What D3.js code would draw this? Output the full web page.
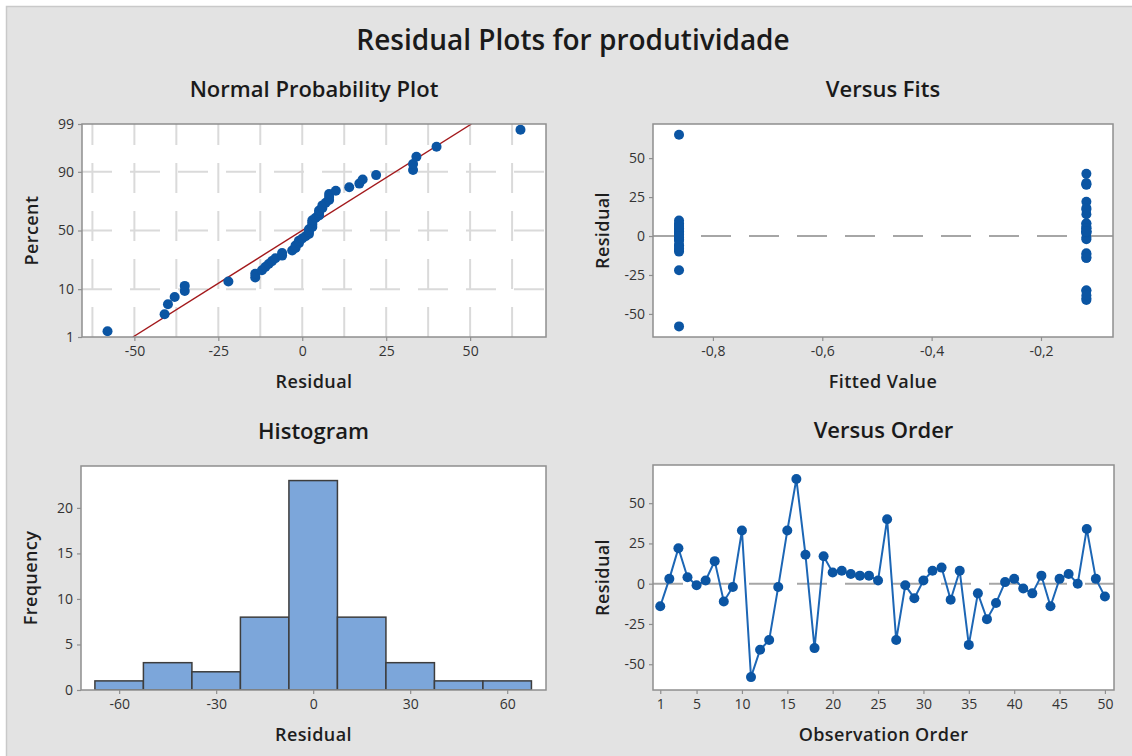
<!DOCTYPE html>
<html>
<head>
<meta charset="utf-8">
<script src="https://cdn.jsdelivr.net/npm/d3@7"></script>
<style>
  body { margin: 0; background: #fff; }
  svg { display: block; font-family: "Open Sans", "Noto Sans", sans-serif; }
</style>
</head>
<body>
<div id="chart"></div>
<script>
// residuals by observation order (1..50)
const residuals = [
  -14, 3, 22, 4, -1, 2, 14, -11, -2, 33,
  -58, -41, -35, -2, 33, 65, 18, -40, 17, 7,
  8, 6, 5, 5, 2, 40, -35, -1, -9, 2,
  8, 10, -10, 8, -38, -6, -22, -12, 1, 3,
  -3, -6, 5, -14, 3, 6, 0, 34, 3, -8
];
// fitted value of each observation (two groups)
const fittedValues = [
  -0.117, -0.862, -0.117, -0.862, -0.862, -0.862, -0.117, -0.117, -0.862, -0.117,
  -0.862, -0.117, -0.117, -0.117, -0.117, -0.862, -0.117, -0.117, -0.117, -0.862,
  -0.862, -0.117, -0.862, -0.117, -0.117, -0.117, -0.117, -0.117, -0.862, -0.117,
  -0.117, -0.862, -0.862, -0.117, -0.117, -0.862, -0.862, -0.117, -0.862, -0.117,
  -0.862, -0.862, -0.117, -0.117, -0.117, -0.862, -0.862, -0.117, -0.117, -0.862
];
// histogram
const histCenters = [-60, -45, -30, -15, 0, 15, 30, 45, 60];
const histCounts = [1, 3, 2, 8, 23, 8, 3, 1, 1];
const binWidth = 15;

// tick labels
const probTicks = [1, 10, 50, 90, 99];
const probGridLines = [10, 50, 90];
const probXTicks = [-50, -25, 0, 25, 50];
const fitsXTicks = [-0.8, -0.6, -0.4, -0.2];
const residTicks = [-50, -25, 0, 25, 50];
const histXTicks = [-60, -30, 0, 30, 60];
const histYTicks = [0, 5, 10, 15, 20];
const orderTicks = [1, 5, 10, 15, 20, 25, 30, 35, 40, 45, 50];

const W = 1132, H = 756;
const BLUE = '#0b55a3';
const DASH = '30,18';

// inverse standard normal cdf (Acklam)
function probit(p) {
  const a = [-39.69683028665376, 220.9460984245205, -275.9285104469687, 138.3577518672690, -30.66479806614716, 2.506628277459239];
  const b = [-54.47609879822406, 161.5858368580409, -155.6989798598866, 66.80131188771972, -13.28068155288572];
  const c = [-0.007784894002430293, -0.3223964580411365, -2.400758277161838, -2.549732539343734, 4.374664141464968, 2.938163982698783];
  const d = [0.007784695709041462, 0.3224671290700398, 2.445134137142996, 3.754408661907416];
  const pl = 0.02425;
  let q, r;
  if (p < pl) {
    q = Math.sqrt(-2 * Math.log(p));
    return (((((c[0]*q+c[1])*q+c[2])*q+c[3])*q+c[4])*q+c[5]) / ((((d[0]*q+d[1])*q+d[2])*q+d[3])*q+1);
  }
  if (p > 1 - pl) {
    q = Math.sqrt(-2 * Math.log(1 - p));
    return -(((((c[0]*q+c[1])*q+c[2])*q+c[3])*q+c[4])*q+c[5]) / ((((d[0]*q+d[1])*q+d[2])*q+d[3])*q+1);
  }
  q = p - 0.5; r = q * q;
  return (((((a[0]*r+a[1])*r+a[2])*r+a[3])*r+a[4])*r+a[5])*q / (((((b[0]*r+b[1])*r+b[2])*r+b[3])*r+b[4])*r+1);
}

const hyphen = d => String(d);
const comma1 = d => d.toFixed(1).replace('.', ',');

const svg = d3.select('#chart').append('svg').attr('width', W).attr('height', H);

// background
svg.append('rect').attr('width', W).attr('height', H).attr('fill', '#fff');
svg.append('rect').attr('x', 6.5).attr('y', 6.5).attr('width', W).attr('height', H)
  .attr('fill', '#e3e3e3').attr('stroke', '#c9c9c9').attr('stroke-width', 1.5);

svg.append('text').attr('x', 573).attr('y', 50).attr('text-anchor', 'middle')
  .style('font-size', '28px').style('font-weight', 600).attr('fill', '#1a1a1a')
  .text('Residual Plots for produtividade');

let clipId = 0;
function panel(box, title, xLabel, yLabel) {
  const g = svg.append('g');
  const id = 'clip' + (clipId++);
  g.append('clipPath').attr('id', id).append('rect')
    .attr('x', box.x0).attr('y', box.y0).attr('width', box.x1 - box.x0).attr('height', box.y1 - box.y0);
  g.append('rect').attr('x', box.x0).attr('y', box.y0)
    .attr('width', box.x1 - box.x0).attr('height', box.y1 - box.y0).attr('fill', '#fff');
  const cx = (box.x0 + box.x1) / 2, cy = (box.y0 + box.y1) / 2;
  g.append('text').attr('x', cx).attr('y', box.y0 - 27).attr('text-anchor', 'middle')
    .style('font-size', '22px').style('font-weight', 600).attr('fill', '#1a1a1a').text(title);
  g.append('text').attr('x', cx).attr('y', box.y1 + 51).attr('text-anchor', 'middle')
    .style('font-size', '18px').style('font-weight', 600).attr('fill', '#1e1e1e')
    .style('letter-spacing', '0.4px').text(xLabel);
  g.append('text').attr('transform', `translate(${box.x0 - 44},${cy}) rotate(-90)`)
    .attr('text-anchor', 'middle')
    .style('font-size', '18px').style('font-weight', 600).attr('fill', '#1e1e1e')
    .style('letter-spacing', '0.4px').text(yLabel);
  const plot = g.append('g').attr('clip-path', `url(#${id})`);
  return { g, plot };
}

function frame(g, box) {
  g.append('rect').attr('x', box.x0).attr('y', box.y0)
    .attr('width', box.x1 - box.x0).attr('height', box.y1 - box.y0)
    .attr('fill', 'none').attr('stroke', '#8f8f8f').attr('stroke-width', 1.5);
}

function styleAxis(sel) {
  sel.select('.domain').remove();
  sel.selectAll('.tick line').attr('stroke', '#8f8f8f').attr('stroke-width', 1.2);
  sel.selectAll('.tick text').attr('fill', '#333').style('font-size', '14px')
    .style('font-family', '"Open Sans", "Noto Sans", sans-serif');
}

function addAxes(g, box, x, y, xt, yt, xf, yf) {
  g.append('g').attr('transform', `translate(0,${box.y1})`)
    .call(d3.axisBottom(x).tickValues(xt).tickFormat(xf).tickSize(4).tickPadding(5))
    .call(styleAxis);
  g.append('g').attr('transform', `translate(${box.x0},0)`)
    .call(d3.axisLeft(y).tickValues(yt).tickFormat(yf).tickSize(4).tickPadding(4))
    .call(styleAxis);
}

// ---------- Normal Probability Plot ----------
{
  const box = { x0: 82, x1: 546, y0: 124, y1: 337 };
  const { g, plot } = panel(box, 'Normal Probability Plot', 'Residual', 'Percent');
  const x = d3.scaleLinear().domain([-65.6, 72.6]).range([box.x0, box.x1]);
  const z = d3.scaleLinear().domain([probit(0.01), probit(0.99)]).range([box.y1, box.y0]);

  const gridX = d3.range(-62.5, 63, 12.5);
  plot.selectAll('.vgrid').data(gridX).join('line')
    .attr('x1', d => x(d)).attr('x2', d => x(d)).attr('y1', box.y1).attr('y2', box.y0)
    .attr('stroke', '#dadada').attr('stroke-width', 2).attr('stroke-dasharray', DASH);
  plot.selectAll('.hgrid').data(probGridLines).join('line')
    .attr('x1', box.x0).attr('x2', box.x1)
    .attr('y1', d => z(probit(d / 100))).attr('y2', d => z(probit(d / 100)))
    .attr('stroke', '#dadada').attr('stroke-width', 2).attr('stroke-dasharray', DASH);

  const n = residuals.length;
  const sorted = residuals.slice().sort(d3.ascending);
  const pts = sorted.map((r, i) => ({ r, q: probit((i + 1 - 0.3) / (n + 0.4)) }));
  const mu = d3.mean(residuals), sd = d3.deviation(residuals);

  plot.append('line')
    .attr('x1', x(mu + sd * z.domain()[0])).attr('y1', z(z.domain()[0]))
    .attr('x2', x(mu + sd * z.domain()[1])).attr('y2', z(z.domain()[1]))
    .attr('stroke', '#a3191c').attr('stroke-width', 1.4);

  plot.selectAll('circle').data(pts).join('circle')
    .attr('cx', d => x(d.r)).attr('cy', d => z(d.q)).attr('r', 5).attr('fill', BLUE);

  frame(g, box);
  addAxes(g, box, x, z, probXTicks, probTicks.map(p => probit(p / 100)), hyphen,
    (d, i) => String(probTicks[i]));
}

// ---------- Versus Fits ----------
{
  const box = { x0: 653, x1: 1113, y0: 124, y1: 337 };
  const { g, plot } = panel(box, 'Versus Fits', 'Fitted Value', 'Residual');
  const x = d3.scaleLinear().domain([-0.9096, -0.0683]).range([box.x0, box.x1]);
  const y = d3.scaleLinear().domain([-64.8, 71.9]).range([box.y1, box.y0]);

  plot.append('line').attr('x1', box.x0).attr('x2', box.x1).attr('y1', y(0)).attr('y2', y(0))
    .attr('stroke', '#a6a6a6').attr('stroke-width', 2).attr('stroke-dasharray', DASH);

  plot.selectAll('circle').data(residuals).join('circle')
    .attr('cx', (d, i) => x(fittedValues[i])).attr('cy', d => y(d)).attr('r', 5).attr('fill', BLUE);

  frame(g, box);
  addAxes(g, box, x, y, fitsXTicks, residTicks, comma1, hyphen);
}

// ---------- Histogram ----------
{
  const box = { x0: 81, x1: 546, y0: 466, y1: 690 };
  const { g, plot } = panel(box, 'Histogram', 'Residual', 'Frequency');
  const x = d3.scaleLinear().domain([-71.8, 72]).range([box.x0, box.x1]);
  const y = d3.scaleLinear().domain([0, 24.6]).range([box.y1, box.y0]);

  plot.selectAll('rect.bar').data(histCounts).join('rect').attr('class', 'bar')
    .attr('x', (d, i) => x(histCenters[i] - binWidth / 2))
    .attr('width', (d, i) => x(histCenters[i] + binWidth / 2) - x(histCenters[i] - binWidth / 2))
    .attr('y', d => y(d)).attr('height', d => y(0) - y(d))
    .attr('fill', '#7ca6da').attr('stroke', '#3d3d3d').attr('stroke-width', 1.5);

  frame(g, box);
  addAxes(g, box, x, y, histXTicks, histYTicks, hyphen, hyphen);
}

// ---------- Versus Order ----------
{
  const box = { x0: 653, x1: 1114, y0: 465, y1: 690 };
  const { g, plot } = panel(box, 'Versus Order', 'Observation Order', 'Residual');
  const x = d3.scaleLinear().domain([0.2, 51]).range([box.x0, box.x1]);
  const y = d3.scaleLinear().domain([-66, 73.7]).range([box.y1, box.y0]);

  plot.append('line').attr('x1', box.x0).attr('x2', box.x1).attr('y1', y(0)).attr('y2', y(0))
    .attr('stroke', '#a6a6a6').attr('stroke-width', 2).attr('stroke-dasharray', DASH);

  const line = d3.line().x((d, i) => x(i + 1)).y(d => y(d));
  plot.append('path').datum(residuals).attr('d', line)
    .attr('fill', 'none').attr('stroke', '#1c66b5').attr('stroke-width', 2);
  plot.selectAll('circle').data(residuals).join('circle')
    .attr('cx', (d, i) => x(i + 1)).attr('cy', d => y(d)).attr('r', 5).attr('fill', BLUE);

  frame(g, box);
  addAxes(g, box, x, y, orderTicks, residTicks, hyphen, hyphen);
}
</script>
</body>
</html>
